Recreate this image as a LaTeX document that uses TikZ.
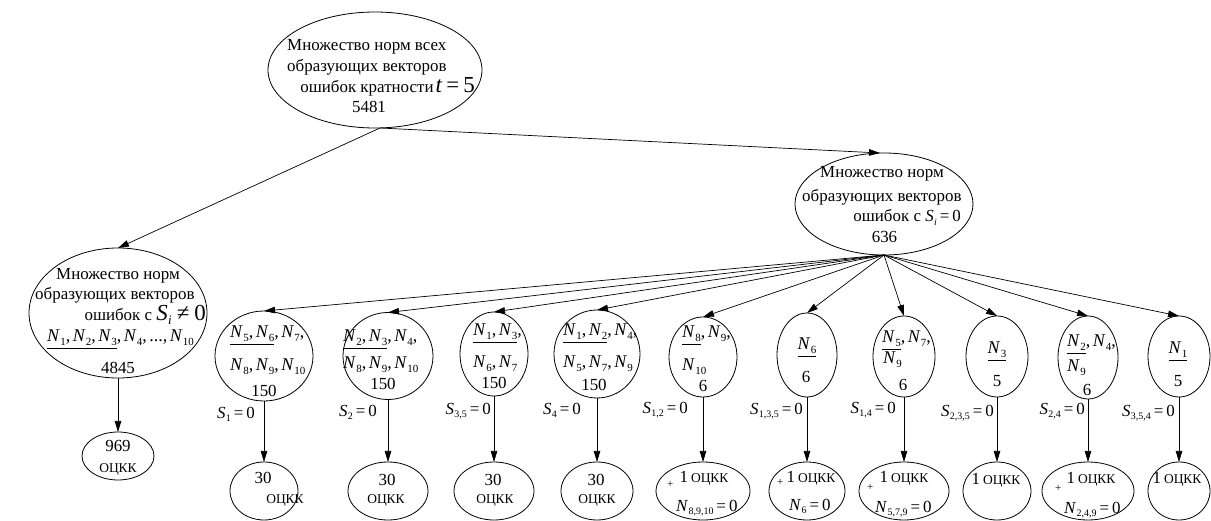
\documentclass[tikz,border=0pt]{standalone}
\usepackage{fontspec}
\setmainfont{Liberation Serif}
\usetikzlibrary{shapes.geometric,arrows.meta}
\newcommand\Nv[1]{\textit{N}\kern0.3bp\raisebox{-4bp}{\fontsize{11}{11}\selectfont #1}}
\newcommand\Ns[1]{\textit{N}\kern0.3bp\raisebox{-3.5bp}{\fontsize{10}{10}\selectfont #1}}
\newcommand\Sv[1]{\textit{S}\kern0.3bp\raisebox{-3.5bp}{\fontsize{10}{10}\selectfont #1}}
\newcommand\ul[1]{\setbox0\hbox{#1}\rlap{\rule[-7bp]{\wd0}{0.7bp}}\box0}
\newcommand\cm{,\hspace{2.5bp}}
\newcommand\ock{{\fontsize{13.5}{14}\selectfont ОЦКК}}
\newcommand\eq{\hspace{3bp}=\hspace{3bp}}
\tikzset{
 ell/.style={ellipse, draw, line width=0.8bp, inner sep=0pt, outer sep=0pt},
 tx/.style={inner sep=0pt, font=\fontsize{17}{20}\selectfont},
 nx/.style={inner sep=0pt, font=\fontsize{18}{20}\selectfont},
 sx/.style={inner sep=0pt, font=\fontsize{17}{20}\selectfont, anchor=base east},
 px/.style={inner sep=0pt, font=\fontsize{11}{12}\selectfont, anchor=base west},
 arr/.style={line width=0.7bp, -{Triangle[length=11bp,width=6.5bp]}},
}
\begin{document}
\begin{tikzpicture}[x=1bp,y=-1bp]
\useasboundingbox (0,0) rectangle (1211,521);
% main ellipses
\node[ell, minimum width=214bp, minimum height=116bp] (T) at (375,70) {};
\node[ell, minimum width=178bp, minimum height=102bp] (R) at (884,204) {};
\node[ell, minimum width=178bp, minimum height=130bp] (L) at (118,313) {};
\node[ell, minimum width=72bp, minimum height=48bp] (L2) at (118,456) {};
% top texts
\node[tx, anchor=base west] (t1) at (287,51) {Множество норм всех};
\node[tx, anchor=base west] (t2) at (287,72) {образующих векторов};
\node[tx, anchor=base east] (t3) at (475,93) {ошибок кратности\hspace{2bp}{\fontsize{23}{24}\selectfont\textit{t}\hspace{4bp}=\hspace{4bp}5}};
\node[tx, anchor=base] (t4) at (369,113) {5481};
% right texts
\node[tx, anchor=base west] (r1) at (820,178) {Множество норм};
\node[tx, anchor=base west] (r2) at (802,202) {образующих векторов};
\node[tx, anchor=base east] (r3) at (961,222) {ошибок с \Sv{\textit{i}}\eq0};
\node[tx, anchor=base] (r4) at (884.5,243) {636};
% left texts
\node[tx, anchor=base] (l1) at (118,280) {Множество норм};
\node[tx, anchor=base west] (l2) at (35,300) {образующих векторов};
\node[tx, anchor=base east] (l3) at (206,321) {ошибок с {\fontsize{23}{24}\selectfont\textit{S}\kern0.3bp\raisebox{-4bp}{\fontsize{13}{13}\selectfont\textit{i}}\hspace{5bp}≠\hspace{5bp}0}};
\node[nx, anchor=base west] (l4) at (47,342) {\ul{\Nv{1}\cm\Nv{2}\cm\Nv{3}}\cm\Nv{4}\cm...\cm\Nv{10}};
\node[tx, anchor=base] (l5) at (118,374) {4845};
\node[tx, anchor=base] (l6) at (118,451) {969};
\node[tx, anchor=base] (l7) at (118,472) {\ock};
% row ellipses
\node[ell, minimum width=98bp, minimum height=90bp] (A1) at (264,356) {};
\node[ell, minimum width=90bp, minimum height=87bp] (A2) at (388,356) {};
\node[ell, minimum width=68bp, minimum height=84bp] (A3) at (494,354) {};
\node[ell, minimum width=86bp, minimum height=88bp] (A4) at (597,354) {};
\node[ell, minimum width=68bp, minimum height=80bp] (A5) at (703,357) {};
\node[ell, minimum width=60bp, minimum height=84bp] (A6) at (807,355) {};
\node[ell, minimum width=62bp, minimum height=81bp] (A7) at (904,356.5) {};
\node[ell, minimum width=62bp, minimum height=81bp] (A8) at (997,356.5) {};
\node[ell, minimum width=60bp, minimum height=83bp] (A9) at (1088,357.5) {};
\node[ell, minimum width=62bp, minimum height=81bp] (A10) at (1179,356.5) {};
% row texts
\node[nx, anchor=base west] (a1a) at (230,338) {\ul{\Nv{5}\cm\Nv{6}}\cm\Nv{7},};
\node[nx, anchor=base west] (a1b) at (230,371) {\Nv{8}\cm\Nv{9}\cm\Nv{10}};
\node[tx, anchor=base] (a1c) at (264,396) {150};
\node[nx, anchor=base west] (a2a) at (343,342) {\ul{\Nv{2}\cm\Nv{3}}\cm\Nv{4},};
\node[nx, anchor=base west] (a2b) at (343,369) {\Nv{8}\cm\Nv{9}\cm\Nv{10}};
\node[tx, anchor=base] (a2c) at (383,389) {150};
\node[nx, anchor=base west] (a3a) at (473,336) {\ul{\Nv{1}\cm\Nv{3}},};
\node[nx, anchor=base west] (a3b) at (473,368) {\Nv{6}\cm\Nv{7}};
\node[tx, anchor=base] (a3c) at (494,388) {150};
\node[nx, anchor=base west] (a4a) at (563,336) {\ul{\Nv{1}\cm\Nv{2}}\cm\Nv{4},};
\node[nx, anchor=base west] (a4b) at (563,368) {\Nv{5}\cm\Nv{7}\cm\Nv{9}};
\node[tx, anchor=base] (a4c) at (594,390) {150};
\node[nx, anchor=base west] (a5a) at (682,338) {\ul{\Nv{8}}\cm\Nv{9},};
\node[nx, anchor=base west] (a5b) at (682,371) {\Nv{10}};
\node[tx, anchor=base] (a5c) at (703,391) {6};
\node[nx, anchor=base] (a6a) at (807,350) {\ul{\Nv{6}}};
\node[tx, anchor=base] (a6c) at (806,383) {6};
\node[nx, anchor=base west] (a7a) at (882,343) {\ul{\Nv{5}}\cm\Nv{7},};
\node[nx, anchor=base west] (a7b) at (883,364) {\Nv{9}};
\node[tx, anchor=base] (a7c) at (903,390) {6};
\node[nx, anchor=base] (a8a) at (997,354) {\ul{\Nv{3}}};
\node[tx, anchor=base] (a8c) at (997,387) {5};
\node[nx, anchor=base west] (a9a) at (1067,347) {\ul{\Nv{2}}\cm\Nv{4},};
\node[nx, anchor=base west] (a9b) at (1067,372) {\Nv{9}};
\node[tx, anchor=base] (a9c) at (1087,395) {6};
\node[nx, anchor=base] (a10a) at (1178,354) {\ul{\Nv{1}}};
\node[tx, anchor=base] (a10c) at (1178,387) {5};
% bottom ellipses
\node[ell, minimum width=68bp, minimum height=58bp] (B1) at (264,491) {};
\node[ell, minimum width=80bp, minimum height=58bp] (B2) at (388,491) {};
\node[ell, minimum width=80bp, minimum height=58bp] (B3) at (494,491) {};
\node[ell, minimum width=72bp, minimum height=58bp] (B4) at (597,491) {};
\node[ell, minimum width=94bp, minimum height=58bp] (B5) at (703,491) {};
\node[ell, minimum width=76bp, minimum height=58bp] (B6) at (807,491) {};
\node[ell, minimum width=90bp, minimum height=58bp] (B7) at (904,491) {};
\node[ell, minimum width=68bp, minimum height=58bp] (B8) at (997,491) {};
\node[ell, minimum width=92bp, minimum height=58bp] (B9) at (1088,491) {};
\node[ell, minimum width=62bp, minimum height=58bp] (B10) at (1179,491) {};
% bottom texts
\node[tx, anchor=base] (b1a) at (263,483) {30};
\node[tx, anchor=base] (b1b) at (285,503) {\ock};
\node[tx, anchor=base] (b2a) at (387,485) {30};
\node[tx, anchor=base] (b2b) at (386,503) {\ock};
\node[tx, anchor=base] (b3a) at (493,485) {30};
\node[tx, anchor=base] (b3b) at (495,503) {\ock};
\node[tx, anchor=base] (b4a) at (596,485) {30};
\node[tx, anchor=base] (b4b) at (597,503) {\ock};
\node[tx, anchor=base] (b5a) at (704,482) {1\hspace{3bp}\ock};
\node[px] (b5p) at (667,487) {+};
\node[tx, anchor=base west] (b5b) at (676,511) {\Ns{8,9,10}\eq0};
\node[tx, anchor=base] (b6a) at (811,482) {1\hspace{3bp}\ock};
\node[px] (b6p) at (777,485) {+};
\node[tx, anchor=base west] (b6b) at (789,510) {\Ns{6}\eq0};
\node[tx, anchor=base] (b7a) at (904,482) {1\hspace{3bp}\ock};
\node[px] (b7p) at (867,490) {+};
\node[tx, anchor=base west] (b7b) at (875,512) {\Ns{5,7,9}\eq0};
\node[tx, anchor=base] (b8a) at (996,484) {1\hspace{3bp}\ock};
\node[tx, anchor=base] (b9a) at (1091,483) {1\hspace{3bp}\ock};
\node[px] (b9p) at (1055,491) {+};
\node[tx, anchor=base west] (b9b) at (1064,513) {\Ns{2,4,9}\eq0};
\node[tx, anchor=base] (b10a) at (1177,483) {1\hspace{3bp}\ock};
% S labels
\node[sx] (s1) at (255,418) {\Sv{1}\eq0};
\node[sx] (s2) at (377,416) {\Sv{2}\eq0};
\node[sx] (s3) at (491,414) {\Sv{3,5}\eq0};
\node[sx] (s4) at (581,414) {\Sv{4}\eq0};
\node[sx] (s5) at (688,413) {\Sv{1,2}\eq0};
\node[sx] (s6) at (803,414) {\Sv{1,3,5}\eq0};
\node[sx] (s7) at (896,413) {\Sv{1,4}\eq0};
\node[sx] (s8) at (994,416) {\Sv{2,3,5}\eq0};
\node[sx] (s9) at (1085,414) {\Sv{2,4}\eq0};
\node[sx] (s10) at (1175,416) {\Sv{3,5,4}\eq0};
% connectors
\coordinate (Tb) at ([xshift=5bp]T.south);
\draw[arr] (Tb) -- (L.north);
\draw[arr] (Tb) -- ([xshift=-4bp]R.north);
\draw[arr] (L.south) -- (L2.north);
\foreach \i in {1,...,10} {
  \draw[arr] (R.south) -- (A\i.north);
  \draw[arr] (A\i.south) -- (B\i.north);
}
\end{tikzpicture}
\end{document}
